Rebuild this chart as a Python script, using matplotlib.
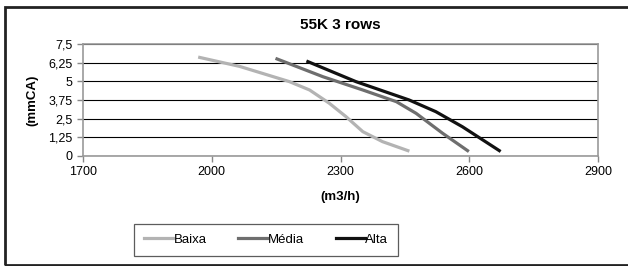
import matplotlib.pyplot as plt
from matplotlib.patches import Rectangle

plt.rcParams['font.family'] = ['Liberation Sans', 'DejaVu Sans']

# curve data (m3/h vs mmCA)
baixa_x = [1972, 2065, 2181, 2228, 2274, 2313, 2352, 2398, 2457]
baixa_y = [6.6, 6.0, 4.98, 4.42, 3.53, 2.63, 1.63, 0.96, 0.36]
media_x = [2152, 2259, 2352, 2430, 2476, 2538, 2596]
media_y = [6.5, 5.31, 4.42, 3.64, 2.86, 1.52, 0.36]
alta_x = [2224, 2336, 2460, 2522, 2584, 2670]
alta_y = [6.32, 4.98, 3.75, 2.97, 1.96, 0.36]

x_ticks = [1700, 2000, 2300, 2600, 2900]
y_ticks = [0, 1.25, 2.5, 3.75, 5, 6.25, 7.5]
y_labels = ['0', '1,25', '2,5', '3,75', '5', '6,25', '7,5']

fig = plt.figure(figsize=(6.28, 2.66), dpi=100)
ax = fig.add_axes([83/628, 110/266, 515/628, 112/266])

ax.plot(baixa_x, baixa_y, color='#b3b3b3', lw=2.3, label='Baixa', solid_joinstyle='round')
ax.plot(media_x, media_y, color='#6e6e6e', lw=2.3, label='Média', solid_joinstyle='round')
ax.plot(alta_x, alta_y, color='#111111', lw=2.3, label='Alta', solid_joinstyle='round')

ax.set_xlim(1700, 2900)
ax.set_ylim(0, 7.5)
ax.set_xticks(x_ticks)
ax.set_yticks(y_ticks)
ax.set_yticklabels(y_labels)
ax.tick_params(labelsize=9, direction='out', length=4, color='#888888', width=1)
ax.grid(axis='y', color='black', lw=0.8)
ax.set_axisbelow(True)
for s in ax.spines.values():
    s.set_color('#999999')
    s.set_linewidth(1.2)

ax.set_title('55K 3 rows', fontsize=11, fontweight='bold', pad=11)
ax.set_xlabel('(m3/h)', fontsize=9.5, fontweight='bold', labelpad=9)
ax.set_ylabel('(mmCA)', fontsize=9.5, fontweight='bold', labelpad=7)

leg = ax.legend(loc='upper center', bbox_to_anchor=(266/628, 49/266), bbox_transform=fig.transFigure,
                ncol=3, fontsize=9.5, frameon=True, fancybox=False, handlelength=2.2,
                handletextpad=0.05, columnspacing=2.4, borderpad=0.75)
leg.get_frame().set_edgecolor('#333333')
leg.get_frame().set_linewidth(0.9)

fig.patches.append(Rectangle((5/628, 1.5/266), 640/628, 258/266, transform=fig.transFigure,
                             fill=False, edgecolor='#222222', lw=2))

plt.savefig('out.png', dpi=100)
